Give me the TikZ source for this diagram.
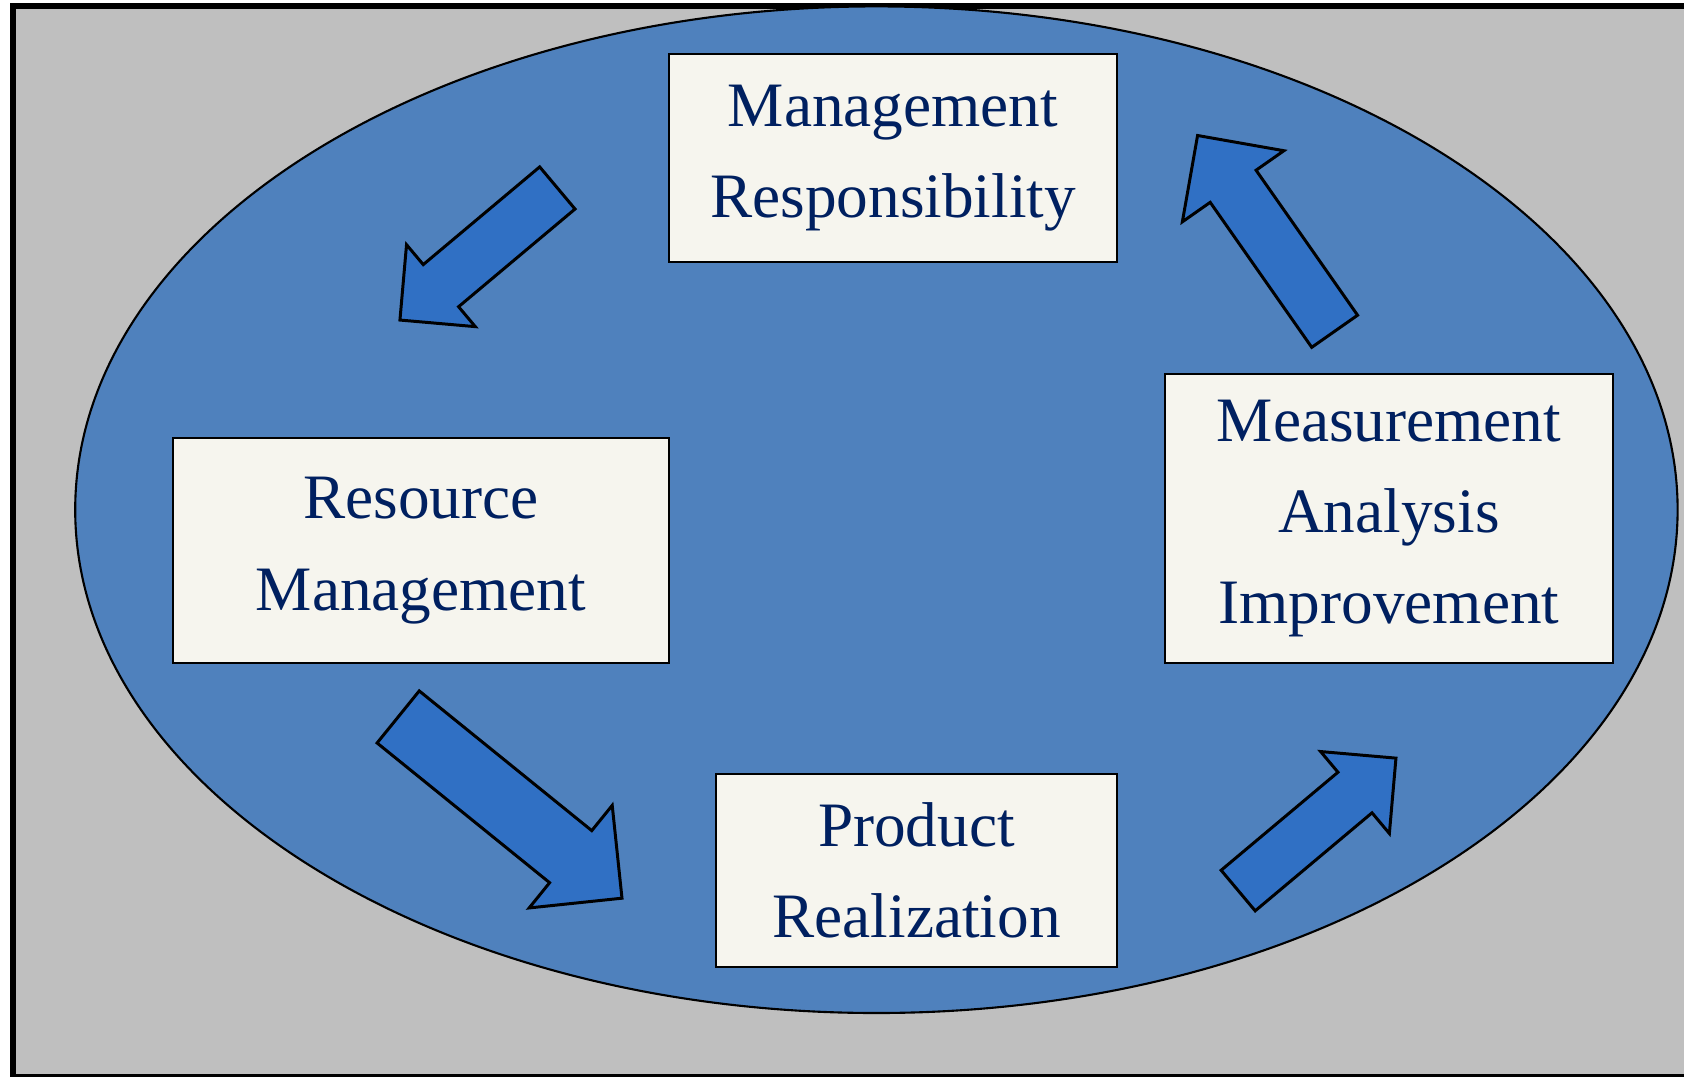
\documentclass[tikz,border=0pt]{standalone}
\usepackage{fontspec}
\setmainfont{Liberation Serif}
\usetikzlibrary{shapes.arrows, positioning}

\definecolor{panelgray}{HTML}{BFBFBF}
\definecolor{ovalblue}{HTML}{4F81BD}
\definecolor{arrowblue}{HTML}{3070C4}
\definecolor{boxcream}{HTML}{F6F5EE}
\definecolor{textnavy}{HTML}{002060}

\begin{document}
\begin{tikzpicture}[
    % Node styles
    process/.style={
        rectangle,
        draw=black,
        line width=0.75pt,
        fill=boxcream,
        inner sep=0pt,
        align=center,
        text=textnavy,
        font=\fontsize{18}{26}\selectfont
    },
    blockarrow/.style={
        single arrow,
        draw=black,
        line width=0.85pt,
        fill=arrowblue,
        inner xsep=0pt,
        anchor=tail
    }
]

\clip (0,0) rectangle (16.84,10.76);

% --- Background panel and cycle oval ---
\draw[line width=1.7pt, fill=panelgray] (0.13,-0.01) rectangle (17.0,10.70);
\draw[line width=0.6pt, fill=ovalblue] (8.764,5.663) ellipse [x radius=8.012, y radius=5.033];

% --- Process boxes ---
\node[process, minimum width=4.48cm, minimum height=2.08cm] (mgmt) at (8.93,9.18)
    {Management\\Responsibility};
\node[process, minimum width=4.96cm, minimum height=2.25cm] (resource) at (4.21,5.255)
    {Resource\\Management};
\node[process, minimum width=4.01cm, minimum height=1.93cm] (product) at (9.165,2.055)
    {Product\\Realization};
\node[process, minimum width=4.48cm, minimum height=2.89cm] (measure) at (13.89,5.575)
    {Measurement\\Analysis\\Improvement};

% --- Block arrows (clockwise cycle) ---
\node[blockarrow, rotate=220, minimum height=2.055cm, minimum width=1.04cm,
      inner ysep=0.26cm, single arrow head extend=0.26cm] (mgmt2res) at (5.585,8.89) {};
\node[blockarrow, rotate=-39, minimum height=2.88cm, minimum width=1.29cm,
      inner ysep=0.32cm, single arrow head extend=0.325cm] (res2prod) at (3.97,3.60) {};
\node[blockarrow, rotate=40, minimum height=2.06cm, minimum width=1.04cm,
      inner ysep=0.25cm, single arrow head extend=0.27cm] (prod2meas) at (12.37,1.845) {};
\node[blockarrow, rotate=125, minimum height=2.39cm, minimum width=1.21cm,
      inner ysep=0.265cm, single arrow head extend=0.34cm] (meas2mgmt) at (13.355,7.435) {};

\end{tikzpicture}
\end{document}
